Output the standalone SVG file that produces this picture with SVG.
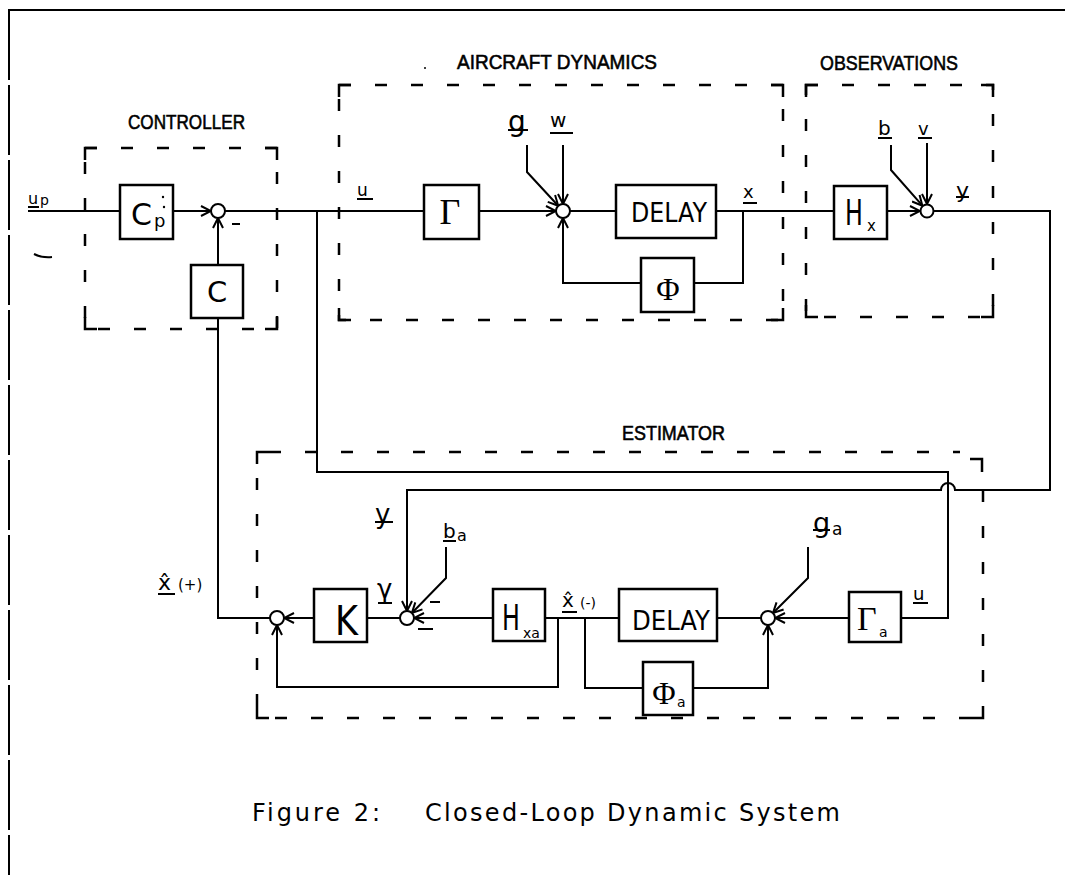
<svg xmlns="http://www.w3.org/2000/svg" width="1065" height="875" viewBox="0 0 1065 875">
<defs>
<style>
.ln{stroke:#000;stroke-width:2;fill:none}
.bx{fill:#fff;stroke:#000;stroke-width:2.5}
.dash{stroke:#000;stroke-width:2.5;fill:none;stroke-dasharray:12 24}
.cor{stroke:#000;stroke-width:2.5;fill:none}
.sj{fill:#fff;stroke:#000;stroke-width:2}
.ul{stroke:#000;stroke-width:2}
.lb{font-family:"DejaVu Sans","Liberation Sans",sans-serif;fill:#000}
.sf{font-family:"Liberation Serif","DejaVu Serif",serif;fill:#000}
.ttl{font-family:"Liberation Sans",sans-serif;font-size:21px;fill:#000;stroke:#000;stroke-width:0.6}
.cap{font-family:"DejaVu Sans","Liberation Sans",sans-serif;font-size:24px;fill:#000}
</style>
<marker id="ah" viewBox="0 0 12 12" refX="11" refY="6" markerWidth="12" markerHeight="12" markerUnits="userSpaceOnUse" orient="auto">
<path d="M1,1 L11,6 L1,11" fill="none" stroke="#000" stroke-width="2"/>
</marker>
</defs>
<rect width="1065" height="875" fill="#fff"/>

<!-- page frame -->
<g id="frame">
<path class="ln" d="M8,10 H1065"/>
<path class="ln" d="M9,10 V875" stroke-dasharray="70 5"/>
<path class="ln" d="M34,254 Q42,258 52,257"/>
<circle cx="425" cy="68" r="1" fill="#000"/>
</g>

<!-- group boxes -->
<g id="controller-group">
<rect class="dash" x="85" y="148" width="192" height="181"/>
<path class="cor" d="M85,160 V148 H97 M265,148 H277 V160 M277,317 V329 H265 M97,329 H85 V317"/>
<text class="ttl" x="128" y="129" textLength="117" lengthAdjust="spacingAndGlyphs">CONTROLLER</text>
</g>
<g id="aircraft-group">
<rect class="dash" x="339" y="85" width="444" height="235"/>
<path class="cor" d="M339,97 V85 H351 M771,85 H783 V97 M783,308 V320 H771 M351,320 H339 V308"/>
<text class="ttl" x="457" y="69" textLength="200" lengthAdjust="spacingAndGlyphs">AIRCRAFT DYNAMICS</text>
</g>
<g id="observations-group">
<rect class="dash" x="806" y="85" width="187" height="232"/>
<path class="cor" d="M806,97 V85 H818 M981,85 H993 V97 M993,305 V317 H981 M818,317 H806 V305"/>
<text class="ttl" x="820" y="70" textLength="138" lengthAdjust="spacingAndGlyphs">OBSERVATIONS</text>
</g>
<g id="estimator-group">
<path class="dash" d="M269,452 H960 M983,490 V706 M971,718 H269 M257,706 V464"/>
<path class="cor" d="M257,464 V452 H269 M970,459 H982 V472 M983,706 V718 H971 M269,718 H257 V706"/>
<text class="ttl" x="622" y="440" textLength="103" lengthAdjust="spacingAndGlyphs">ESTIMATOR</text>
</g>

<!-- connectors -->
<g id="connectors">
<path class="ln" d="M28,211 H120"/>
<path class="ln" d="M173,211 H211" marker-end="url(#ah)"/>
<path class="ln" d="M218,265 V218" marker-end="url(#ah)"/>
<path class="ln" d="M225,211 H424"/>
<path class="ln" d="M317,211 V472 H948 V618 H901"/>
<path class="ln" d="M479,211 H556" marker-end="url(#ah)"/>
<path class="ln" d="M527,145 V172 L558.2,205.8" marker-end="url(#ah)"/>
<path class="ln" d="M563,145 V204" marker-end="url(#ah)"/>
<path class="ln" d="M570,211 H616"/>
<path class="ln" d="M716,211 H834"/>
<path class="ln" d="M743,211 V283 H694"/>
<path class="ln" d="M641,283 H563 V218" marker-end="url(#ah)"/>
<path class="ln" d="M887,211 H920" marker-end="url(#ah)"/>
<path class="ln" d="M891,145 V170 L922.4,205.7" marker-end="url(#ah)"/>
<path class="ln" d="M927,143 V204" marker-end="url(#ah)"/>
<path class="ln" d="M934,211 H1050 V490 H955 A7,7 0 0 0 941,490 H407 V611" marker-end="url(#ah)"/>
<path class="ln" d="M849,618 H775" marker-end="url(#ah)"/>
<path class="ln" d="M808,547 V578 L773,613" marker-end="url(#ah)"/>
<path class="ln" d="M693,688 H768 V625" marker-end="url(#ah)"/>
<path class="ln" d="M761,618 H717"/>
<path class="ln" d="M619,618 H545"/>
<path class="ln" d="M585,618 V688 H643"/>
<path class="ln" d="M558,618 V687 H277 V625" marker-end="url(#ah)"/>
<path class="ln" d="M493,618 H414" marker-end="url(#ah)"/>
<path class="ln" d="M446,547 V578 L411.9,613" marker-end="url(#ah)"/>
<path class="ln" d="M400,618 H367"/>
<path class="ln" d="M314,618 H284" marker-end="url(#ah)"/>
<path class="ln" d="M270,618 H218 V318"/>
</g>

<!-- controller nodes -->
<g id="up-label">
<text class="lb" x="28" y="204" font-size="16">u</text>
<text class="lb" x="40" y="205" font-size="14">p</text>
<line class="ul" x1="28" y1="207" x2="39" y2="207"/>
</g>
<g id="Cp">
<rect class="bx" x="120" y="185" width="53" height="54"/>
<text class="lb" x="131" y="225" font-size="30">C</text>
<text class="lb" x="154" y="227" font-size="18">p</text>
<circle cx="163" cy="197" r="1.2" fill="#000"/>
<circle cx="164" cy="207" r="1.2" fill="#000"/>
</g>
<g id="sum-controller">
<circle class="sj" cx="218" cy="211" r="7"/>
<line class="ul" x1="232" y1="224" x2="240" y2="224"/>
</g>
<g id="C">
<rect class="bx" x="191" y="265" width="52" height="53"/>
<text class="lb" x="217" y="302" font-size="29" text-anchor="middle">C</text>
</g>

<!-- aircraft dynamics -->
<g id="u-label">
<text class="lb" x="357" y="196" font-size="17">u</text>
<line class="ul" x1="357" y1="199" x2="373" y2="199"/>
</g>
<g id="Gamma">
<rect class="bx" x="424" y="185" width="55" height="54"/>
<text class="sf" x="450" y="224" font-size="36" text-anchor="middle">Γ</text>
</g>
<g id="g-label">
<text class="lb" x="508" y="131" font-size="28">g</text>
<line class="ul" x1="508" y1="130" x2="528" y2="130"/>
</g>
<g id="w-label">
<text class="lb" x="550" y="127" font-size="20">w</text>
<line class="ul" x1="550" y1="133" x2="573" y2="133"/>
</g>
<g id="sum-aircraft"><circle class="sj" cx="563" cy="211" r="7"/></g>
<g id="Delay">
<rect class="bx" x="616" y="185" width="100" height="53"/>
<text class="lb" x="631" y="222" font-size="26" textLength="76" lengthAdjust="spacingAndGlyphs">DELAY</text>
</g>
<g id="x-label">
<text class="lb" x="743" y="198" font-size="18">x</text>
<line class="ul" x1="743" y1="203" x2="757" y2="203"/>
</g>
<g id="Phi">
<rect class="bx" x="641" y="258" width="53" height="54"/>
<text class="sf" x="668" y="300" font-size="32" text-anchor="middle">Φ</text>
</g>

<!-- observations -->
<g id="Hx">
<rect class="bx" x="834" y="186" width="53" height="53"/>
<text class="lb" font-size="36" transform="translate(845,225) scale(0.66,1)">H</text>
<text class="lb" x="867" y="231" font-size="15">x</text>
</g>
<g id="b-label">
<text class="lb" x="878" y="135" font-size="20">b</text>
<line class="ul" x1="878" y1="138" x2="892" y2="138"/>
</g>
<g id="v-label">
<text class="lb" x="918" y="135" font-size="18">v</text>
<line class="ul" x1="918" y1="138" x2="932" y2="138"/>
</g>
<g id="sum-obs"><circle class="sj" cx="927" cy="211" r="6.5"/></g>
<g id="y-label">
<text class="lb" x="956" y="198" font-size="22">y</text>
<line class="ul" x1="956" y1="197" x2="969" y2="197"/>
</g>

<!-- estimator -->
<g id="xhat-plus-label">
<text class="lb" x="158" y="590" font-size="22">x̂</text>
<line class="ul" x1="158" y1="594" x2="175" y2="594"/>
<text class="lb" x="178" y="590" font-size="15">(+)</text>
</g>
<g id="sum-est-left"><circle class="sj" cx="277" cy="618" r="7"/></g>
<g id="K">
<rect class="bx" x="314" y="589" width="53" height="53"/>
<text class="lb" x="335" y="635" font-size="40" textLength="23" lengthAdjust="spacingAndGlyphs">K</text>
</g>
<g id="gamma-label">
<text class="lb" x="377" y="598" font-size="26">γ</text>
<line class="ul" x1="378" y1="603" x2="392" y2="603"/>
</g>
<g id="y-est-label">
<text class="lb" x="375" y="523" font-size="26">y</text>
<line class="ul" x1="375" y1="522" x2="393" y2="522"/>
</g>
<g id="ba-label">
<text class="lb" x="443" y="538" font-size="20">b</text>
<text class="lb" x="457" y="541" font-size="16">a</text>
<line class="ul" x1="443" y1="541" x2="456" y2="541"/>
</g>
<g id="sum-est-mid">
<circle class="sj" cx="407" cy="618" r="7"/>
<line class="ul" x1="430" y1="602" x2="440" y2="602"/>
<line class="ul" x1="418" y1="629" x2="433" y2="629"/>
</g>
<g id="Hxa">
<rect class="bx" x="493" y="589" width="52" height="52"/>
<text class="lb" font-size="36" transform="translate(502,630) scale(0.66,1)">H</text>
<text class="lb" x="523" y="638" font-size="14">xa</text>
</g>
<g id="xhat-minus-label">
<text class="lb" x="562" y="607" font-size="20">x̂</text>
<line class="ul" x1="562" y1="612" x2="577" y2="612"/>
<text class="lb" x="580" y="608" font-size="14">(-)</text>
</g>
<g id="Delay-a">
<rect class="bx" x="619" y="589" width="98" height="52"/>
<text class="lb" x="632" y="630" font-size="27" textLength="78" lengthAdjust="spacingAndGlyphs">DELAY</text>
</g>
<g id="Phi-a">
<rect class="bx" x="643" y="662" width="50" height="53"/>
<text class="sf" x="664" y="704" font-size="32" text-anchor="middle">Φ</text>
<text class="lb" x="677" y="707" font-size="14">a</text>
</g>
<g id="sum-est-right"><circle class="sj" cx="768" cy="618" r="7"/></g>
<g id="ga-label">
<text class="lb" x="813" y="532" font-size="27">g</text>
<line class="ul" x1="813" y1="530" x2="830" y2="530"/>
<text class="lb" x="832" y="535" font-size="17">a</text>
</g>
<g id="Gamma-a">
<rect class="bx" x="849" y="592" width="52" height="50"/>
<text class="sf" x="857" y="630" font-size="34">Γ</text>
<text class="lb" x="879" y="637" font-size="14">a</text>
</g>
<g id="u-est-label">
<text class="lb" x="913" y="600" font-size="18">u</text>
<line class="ul" x1="913" y1="603" x2="928" y2="603"/>
</g>

<!-- caption -->
<g id="caption">
<text class="cap" x="252" y="821" textLength="128" lengthAdjust="spacing">Figure 2:</text>
<text class="cap" x="425" y="821" textLength="415" lengthAdjust="spacing">Closed-Loop Dynamic System</text>
</g>
</svg>
